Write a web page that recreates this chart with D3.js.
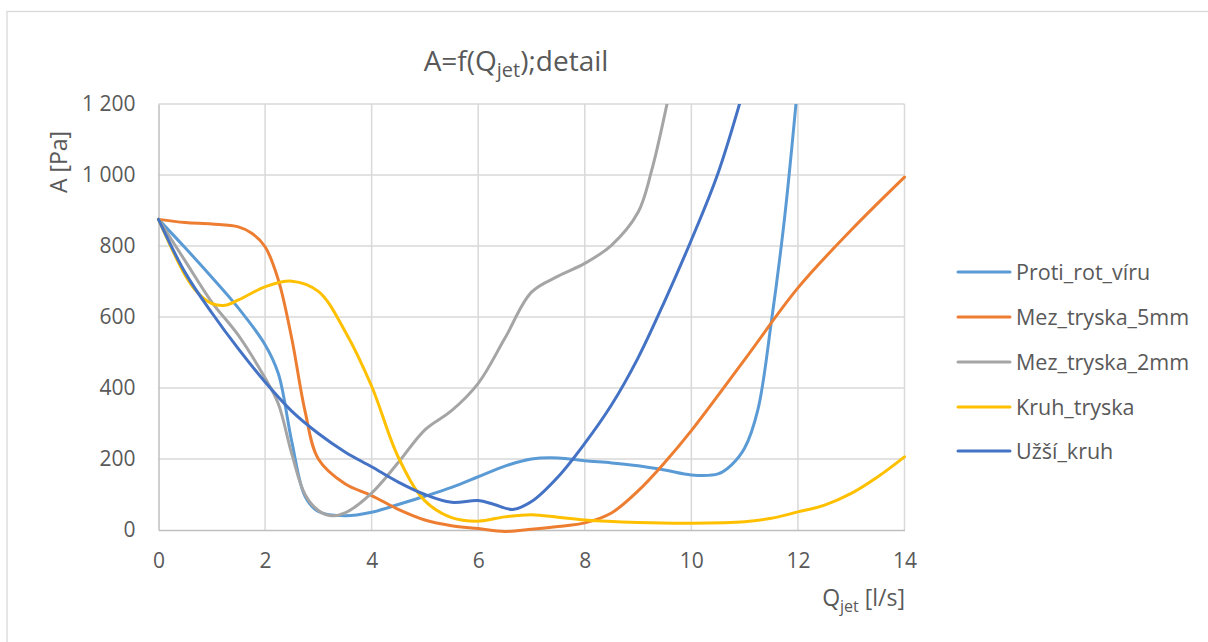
<!DOCTYPE html>
<html>
<head>
<meta charset="utf-8">
<script src="https://cdn.jsdelivr.net/npm/d3@7"></script>
<style>
  html, body { margin: 0; padding: 0; background: #fff; }
  svg { display: block; font-family: "Open Sans", sans-serif; }
</style>
</head>
<body>
<svg id="chart" width="1208" height="642"></svg>
<script>
// ---- data (x = Q_jet [l/s], y = A [Pa]) ----
const seriesNames = ["Proti_rot_víru", "Mez_tryska_5mm", "Mez_tryska_2mm", "Kruh_tryska", "Užší_kruh"];
const seriesColors = ["#5b9bd5", "#ed7d31", "#a5a5a5", "#ffc000", "#4472c4"];

const protiRotViru = [[0,875],[0.5,795],[1,712],[1.5,625],[2,522],[2.25,440],[2.5,250],[2.75,95],[3,52],[3.5,40],[4,50],[4.5,72],[5,95],[5.5,120],[6,150],[6.5,180],[7,200],[7.5,203],[8,195],[8.5,189],[9,181],[9.5,169],[10,155],[10.5,158],[10.75,183],[11,231],[11.25,340],[11.5,585],[11.75,880],[12,1260]];
const mezTryska5mm = [[0,875],[0.5,866],[1,862],[1.5,854],[1.75,836],[2,798],[2.25,704],[2.5,540],[2.75,335],[3,200],[3.5,130],[4,97],[4.5,58],[5,28],[5.5,12],[6,4],[6.5,-4],[7,2],[7.5,10],[8,20],[8.5,48],[9,110],[9.5,190],[10,280],[11,480],[12,682],[13,845],[14,994]];
const mezTryska2mm = [[0,875],[0.5,758],[1,642],[1.5,548],[2,428],[2.25,355],[2.5,215],[2.75,100],[3,55],[3.25,40],[3.5,48],[4,104],[4.5,190],[5,282],[5.5,336],[6,413],[6.5,540],[7,670],[7.5,715],[8,751],[8.5,802],[9,895],[9.25,1010],[9.5,1170],[10,1550]];
const kruhTryska = [[0,875],[0.5,718],[0.75,666],[1,638],[1.25,633],[1.5,648],[2,685],[2.5,701],[3,672],[3.5,560],[4,405],[4.5,205],[5,82],[5.5,35],[6,25],[6.5,37],[7,43],[7.5,36],[8,28],[9,21],[10,19],[11,23],[11.5,33],[12,51],[12.5,70],[13,103],[13.5,150],[14,206]];
const uzsiKruh = [[0,875],[0.5,725],[1,612],[1.5,510],[2,417],[2.5,335],[3,272],[3.5,220],[4,178],[4.5,135],[5,100],[5.5,78],[6,83],[6.3,72],[6.65,58],[7,80],[7.5,150],[8,244],[8.5,352],[9,485],[9.5,645],[10,817],[10.5,1005],[11,1250]];

const xTicks = [0, 2, 4, 6, 8, 10, 12, 14];
const yTicks = [0, 200, 400, 600, 800, 1000, 1200];

const allSeries = [protiRotViru, mezTryska5mm, mezTryska2mm, kruhTryska, uzsiKruh];

// ---- layout ----
const svg = d3.select("#chart");
const plot = { left: 158.5, right: 904.5, top: 104, bottom: 530 };

const x = d3.scaleLinear().domain([0, 14]).range([plot.left, plot.right]);
const y = d3.scaleLinear().domain([0, 1200]).range([plot.bottom, plot.top]);

const csLocale = d3.formatLocale({ decimal: ",", thousands: "\u00a0", grouping: [3], currency: ["", " Kč"] });
const fmt = csLocale.format(",d");

// outer chart border (top & left visible)
svg.append("rect")
  .attr("x", 7).attr("y", 11.5).attr("width", 1230).attr("height", 700)
  .attr("fill", "none").attr("stroke", "#d9d9d9").attr("stroke-width", 1.3);

// gridlines
const grid = svg.append("g");
grid.selectAll("line.h").data(yTicks.filter(d => d > 0)).join("line")
  .attr("x1", plot.left).attr("x2", plot.right)
  .attr("y1", d => y(d)).attr("y2", d => y(d))
  .attr("stroke", "#d9d9d9").attr("stroke-width", 1.5);
grid.selectAll("line.v").data(xTicks.filter(d => d > 0)).join("line")
  .attr("x1", d => x(d)).attr("x2", d => x(d))
  .attr("y1", plot.top).attr("y2", plot.bottom)
  .attr("stroke", "#d9d9d9").attr("stroke-width", 1.5);

// axes
const xAxis = svg.append("g").attr("transform", `translate(0,${plot.bottom})`)
  .call(d3.axisBottom(x).tickValues(xTicks).tickSize(0).tickPadding(23).tickFormat(d3.format("d")));
const yAxis = svg.append("g").attr("transform", `translate(${plot.left},0)`)
  .call(d3.axisLeft(y).tickValues(yTicks).tickSize(0).tickPadding(23).tickFormat(fmt));
[xAxis, yAxis].forEach(a => {
  a.select(".domain").attr("stroke", "#bfbfbf").attr("stroke-width", 1.5);
  a.selectAll("text").attr("fill", "#595959").attr("font-size", 21).attr("font-family", "Open Sans");
});

// clip
svg.append("clipPath").attr("id", "clip").append("rect")
  .attr("x", plot.left - 6).attr("y", plot.top).attr("width", plot.right - plot.left + 12).attr("height", plot.bottom - plot.top + 10);

const line = d3.line().x(d => x(d[0])).y(d => y(d[1])).curve(d3.curveCatmullRom.alpha(0.5));
const lines = svg.append("g").attr("clip-path", "url(#clip)");
allSeries.forEach((s, i) => {
  lines.append("path").datum(s)
    .attr("d", line)
    .attr("fill", "none")
    .attr("stroke", seriesColors[i])
    .attr("stroke-width", 3)
    .attr("stroke-linecap", "round")
    .attr("stroke-linejoin", "round");
});

// title
const title = svg.append("text").attr("x", 516).attr("y", 71)
  .attr("text-anchor", "middle").attr("fill", "#595959").attr("font-size", 28);
title.append("tspan").text("A=f(Q");
title.append("tspan").attr("font-size", 20).attr("dy", 6).text("jet");
title.append("tspan").attr("dy", -6).text(");detail");

// y axis title
svg.append("text").attr("transform", "translate(67,162) rotate(-90)")
  .attr("text-anchor", "middle").attr("fill", "#595959").attr("font-size", 23)
  .text("A [Pa]");

// x axis title
const xt = svg.append("text").attr("x", 905).attr("y", 606)
  .attr("text-anchor", "end").attr("fill", "#595959").attr("font-size", 23);
xt.append("tspan").text("Q");
xt.append("tspan").attr("font-size", 16).attr("dy", 6).text("jet");
xt.append("tspan").attr("dy", -6).text(" [l/s]");

// legend
const legend = svg.append("g");
const legendY = [272, 317, 362, 407, 451];
seriesNames.forEach((n, i) => {
  legend.append("line")
    .attr("x1", 958).attr("x2", 1010)
    .attr("y1", legendY[i]).attr("y2", legendY[i])
    .attr("stroke", seriesColors[i]).attr("stroke-width", 3).attr("stroke-linecap", "round");
  legend.append("text")
    .attr("x", 1016).attr("y", legendY[i]).attr("dy", "0.36em")
    .attr("fill", "#595959").attr("font-size", 21.5)
    .text(n);
});
</script>
</body>
</html>
